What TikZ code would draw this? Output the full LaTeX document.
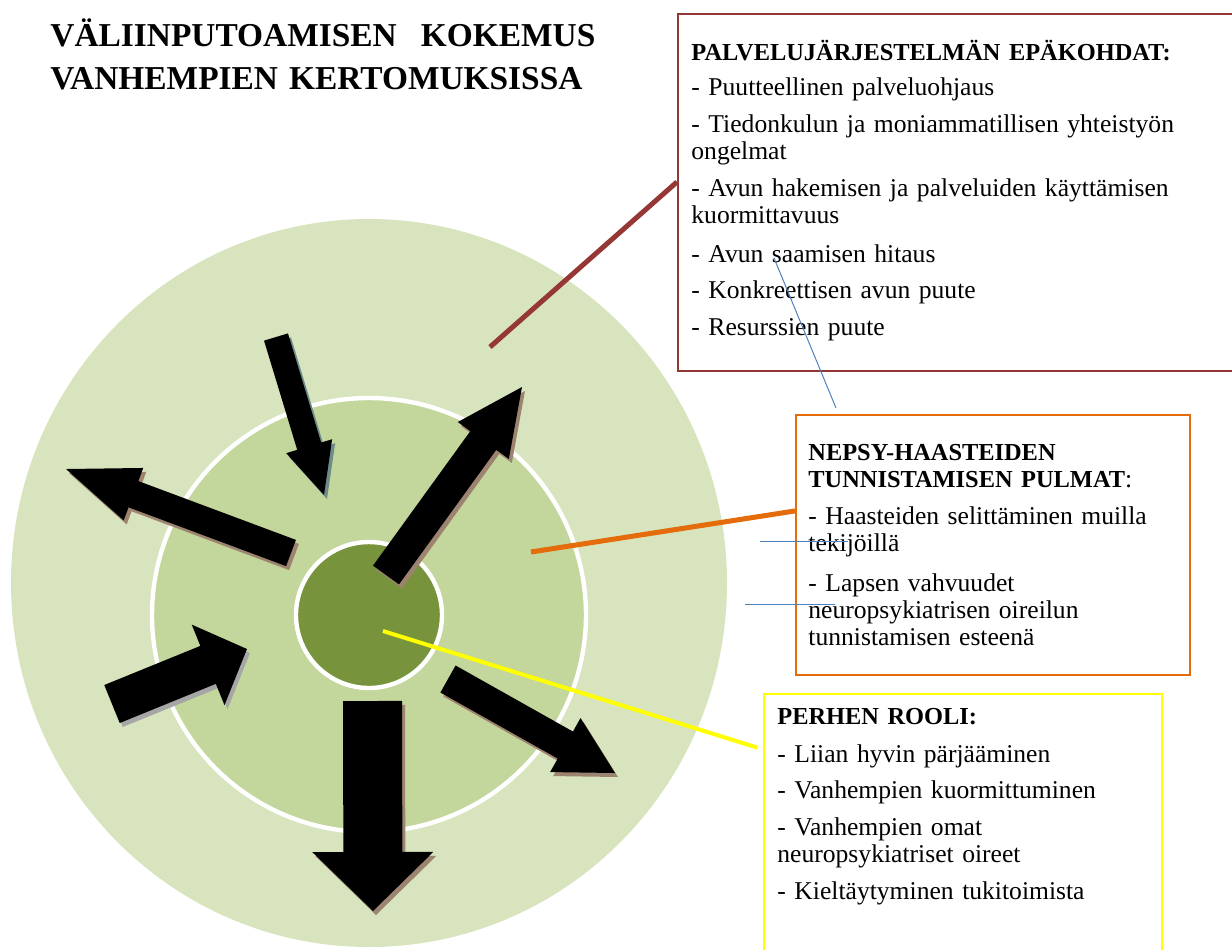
\documentclass[tikz,border=0pt]{standalone}
\usepackage{fontspec}
\setmainfont{Liberation Serif}
\usepackage{tikz}
\usetikzlibrary{calc}
\definecolor{outerring}{HTML}{D7E4BD}
\definecolor{midring}{HTML}{C3D69B}
\definecolor{corering}{HTML}{77933C}
\definecolor{sysred}{HTML}{953735}
\definecolor{nepsyorange}{HTML}{E46C0A}
\definecolor{perheyellow}{HTML}{FFFF00}
\definecolor{strayblue}{HTML}{4F81BD}
\definecolor{arrowshade}{HTML}{9C8470}
\definecolor{tealshade}{HTML}{6E8B8B}
\definecolor{grayshade}{HTML}{A6A6A6}

\newcommand{\boxhead}[1]{{\fontsize{12.2}{13}\selectfont\bfseries #1}}

% block arrow: [shadow] tail x, tail y, tip x, tip y, half shaft, half head, head length
\newcommand{\blockarrow}[8][arrowshade]{%
  \pgfmathsetmacro{\arrang}{atan2(#3-#5,#4-#2)}%
  \pgfmathsetmacro{\arrlen}{veclen(#4-#2,#5-#3)}%
  \pgfmathsetmacro{\arrneck}{\arrlen-#8}%
  \fill[#1, shift={(#2+3,#3+4)}, rotate=\arrang]
    (0,-#6) -- (\arrneck,-#6) -- (\arrneck,-#7) -- (\arrlen,0)
    -- (\arrneck,#7) -- (\arrneck,#6) -- (0,#6) -- cycle;
  \fill[black, shift={(#2,#3)}, rotate=\arrang]
    (0,-#6) -- (\arrneck,-#6) -- (\arrneck,-#7) -- (\arrlen,0)
    -- (\arrneck,#7) -- (\arrneck,#6) -- (0,#6) -- cycle;
}

\tikzset{
  headline/.style={anchor=base west, align=left, inner sep=0pt, text width=272.5pt,
    font=\fontsize{16.7}{21.5}\selectfont\bfseries},
  boxtext/.style={anchor=base west, align=left, inner sep=0pt, text width=#1,
    font=\fontsize{12.8}{13.5}\selectfont},
  boxframe/.style={draw=#1, line width=1pt, anchor=north west, inner sep=0pt},
  link/.style={draw=#1, line width=2.5pt},
  strayline/.style={draw=strayblue, line width=0.5pt}
}

\begin{document}
\begin{tikzpicture}[x=0.5pt, y=-0.5pt]
  \useasboundingbox (0,0) rectangle (1232,949);

  % rings
  \fill[outerring] (369,583) ellipse [x radius=179pt, y radius=182pt];
  \filldraw[fill=midring, draw=white, line width=2.2pt] (369,615) circle [radius=108.5pt];
  \filldraw[fill=corering, draw=white, line width=2.2pt] (369,615) circle [radius=36.5pt];

  % arrows
  \blockarrow[tealshade]{276}{337}{324}{495}{12.5}{24}{51}
  \blockarrow{386}{575}{522}{387}{16}{31.5}{66}
  \blockarrow{291}{553}{66}{469}{14}{28}{72}
  \blockarrow[grayshade]{112}{704}{247}{649}{20.5}{43.5}{42}
  \blockarrow{372.5}{701}{373}{911}{29.5}{60.5}{59}
  \blockarrow{448}{679}{615}{773}{15.5}{31}{57}

  % title
  \node[headline] (title) at (50,46) {VÄLIINPUTOAMISEN\hfill KOKEMUS\\VANHEMPIEN KERTOMUKSISSA};

  % boxes
  \node[boxframe=sysred, line width=1.2pt, minimum width=284pt, minimum height=178.5pt] (sysbox) at (677,13) {};
  \node[boxframe=nepsyorange, minimum width=197pt, minimum height=130pt] (nepsybox) at (795,414) {};
  \node[boxframe=perheyellow, minimum width=199pt, minimum height=140pt] (perhebox) at (763,693) {};

  \node[boxtext=270pt] (systext) at (691,60) {\boxhead{PALVELUJÄRJESTELMÄN EPÄKOHDAT:}\\[4pt]
    - Puutteellinen palveluohjaus\\[5pt]
    - Tiedonkulun ja moniammatillisen yhteistyön\\ongelmat\\[5pt]
    - Avun hakemisen ja palveluiden käyttämisen\\kuormittavuus\\[6pt]
    - Avun saamisen hitaus\\[4.5pt]
    - Konkreettisen avun puute\\[5pt]
    - Resurssien puute};

  \node[boxtext=185pt] (nepsytext) at (808,460) {\boxhead{NEPSY-HAASTEIDEN\\TUNNISTAMISEN PULMAT}:\\[5pt]
    - Haasteiden selittäminen muilla\\tekijöillä\\[6.5pt]
    - Lapsen vahvuudet\\neuropsykiatrisen oireilun\\tunnistamisen esteenä};

  \node[boxtext=190pt] (perhetext) at (777,724) {\boxhead{PERHEN ROOLI:}\\[5.5pt]
    - Liian hyvin pärjääminen\\[4.5pt]
    - Vanhempien kuormittuminen\\[5pt]
    - Vanhempien omat\\neuropsykiatriset oireet\\[5pt]
    - Kieltäytyminen tukitoimista};

  % connectors
  \coordinate (sysfoot) at (490,347);
  \coordinate (nepsyfoot) at (531,552);
  \coordinate (perhefoot) at (383,631);
  \draw[link=sysred] (sysfoot) -- ($(sysbox.north west)!0.47!(sysbox.south west)$);
  \draw[link=nepsyorange] (nepsyfoot) -- ($(nepsybox.north west)!0.37!(nepsybox.south west)$);
  \draw[link=perheyellow, line width=2pt, shorten >=3pt] (perhefoot) -- ($(perhebox.north west)!0.2!(perhebox.south west)$);

  % stray thin lines
  \coordinate (strayA1) at (774,258);
  \coordinate (strayA2) at (836,408);
  \coordinate (strayB1) at (760,541);
  \coordinate (strayB2) at (848,541);
  \coordinate (strayC1) at (745,604);
  \coordinate (strayC2) at (835,604);
  \draw[strayline] (strayA1) -- (strayA2);
  \draw[strayline] (strayB1) -- (strayB2);
  \draw[strayline] (strayC1) -- (strayC2);
\end{tikzpicture}
\end{document}
